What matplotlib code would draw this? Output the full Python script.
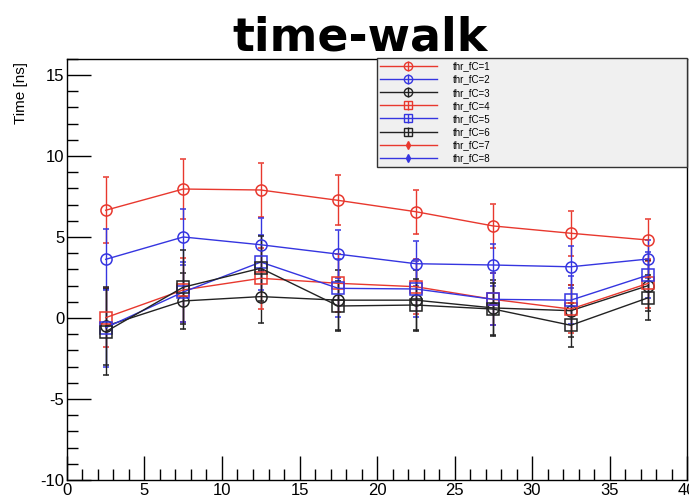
import numpy as np
import matplotlib.pyplot as plt
from matplotlib.ticker import MultipleLocator

plt.rcParams.update({"font.family": ["Liberation Sans", "DejaVu Sans"],
                     "axes.unicode_minus": False})

# threshold bins (ns)
x = [2.5, 7.5, 12.5, 17.5, 22.5, 27.5, 32.5, 37.5]

thr1 = [6.65, 7.96, 7.9, 7.26, 6.56, 5.68, 5.23, 4.81]
thr1_err = [2.05, 1.84, 1.69, 1.55, 1.35, 1.33, 1.38, 1.3]
thr2 = [3.62, 5.0, 4.52, 3.94, 3.35, 3.27, 3.16, 3.64]
thr2_err = [1.9, 1.73, 1.64, 1.46, 1.4, 1.3, 1.3, 1.2]
thr3 = [-0.5, 1.05, 1.32, 1.1, 1.1, 0.62, 0.45, 2.0]
thr3_err = [2.4, 1.75, 1.65, 1.85, 1.85, 1.75, 1.6, 1.55]
thr4 = [0.02, 1.73, 2.45, 2.14, 1.93, 1.15, 0.55, 2.14]
thr4_err = [1.8, 2.0, 1.9, 1.8, 1.7, 1.6, 1.5, 1.5]
thr5 = [-0.6, 1.6, 3.45, 1.83, 1.79, 1.15, 1.1, 2.65]
thr5_err = [2.4, 1.85, 1.7, 1.8, 1.7, 1.6, 1.5, 1.4]
thr6 = [-0.85, 1.9, 3.07, 0.74, 0.8, 0.55, -0.45, 1.25]
thr6_err = [2.7, 2.3, 2.0, 1.55, 1.6, 1.6, 1.35, 1.4]
# thr_fC=7 and 8 show up only in the legend
thr7 = []
thr8 = []

red = "#e8382e"
blue = "#3535e0"
black = "#222222"

fig = plt.figure(figsize=(6.89, 4.96), dpi=100)
ax = fig.add_axes([0.0972, 0.0323, 0.9, 0.8492])

series = [
    (thr1, thr1_err, red, "o", "thr_fC=1"),
    (thr2, thr2_err, blue, "o", "thr_fC=2"),
    (thr3, thr3_err, black, "o", "thr_fC=3"),
    (thr4, thr4_err, red, "s", "thr_fC=4"),
    (thr5, thr5_err, blue, "s", "thr_fC=5"),
    (thr6, thr6_err, black, "s", "thr_fC=6"),
]
handles = []
for ys, es, c, m, lab in series:
    ax.errorbar(x, ys, yerr=es, color=c, marker=m, ms=8, mfc="none",
                mec=c, mew=1.1, lw=1.0, capsize=2, elinewidth=1.0)
    # smaller copy for the legend
    h = ax.errorbar([], [], yerr=[], color=c, marker=m, ms=6, mfc="none",
                    mec=c, mew=1.0, lw=1.0, label=lab)
    handles.append(h)
h7, = ax.plot(thr7, thr7, color=red, marker="d", ms=4, lw=1.0, label="thr_fC=7")
h8, = ax.plot(thr8, thr8, color=blue, marker="d", ms=4, lw=1.0, label="thr_fC=8")
handles += [h7, h8]

ax.set_xlim(0, 40)
ax.set_ylim(-10, 16)
ax.xaxis.set_major_locator(MultipleLocator(5))
ax.xaxis.set_minor_locator(MultipleLocator(1))
ax.yaxis.set_major_locator(MultipleLocator(5))
ax.yaxis.set_minor_locator(MultipleLocator(1))
ax.tick_params(which="both", direction="in", labelsize=12, width=1,
               top=False, right=False)
ax.tick_params(which="major", length=17, pad=2)
ax.tick_params(which="minor", length=8)
for s in ax.spines.values():
    s.set_linewidth(1)

fig.text(0.03, 0.875, "Time [ns]", rotation=90, ha="center", va="top",
         fontsize=11)
fig.text(0.523, 0.899, "time-walk", ha="center", va="baseline",
         fontsize=33, fontweight="bold", family="DejaVu Sans")

leg = ax.legend(handles=handles, loc="upper left",
                bbox_to_anchor=(0.547, 0.883, 0.45, 0.0),
                bbox_transform=fig.transFigure, mode="expand", fontsize=7,
                handlelength=5.8, handletextpad=1.7, labelspacing=0.32,
                borderaxespad=0, borderpad=0.35, fancybox=False,
                edgecolor="#333333", facecolor="#f0f0f0", framealpha=1)
leg.get_frame().set_linewidth(1)

fig.savefig("out.png", dpi=100)
